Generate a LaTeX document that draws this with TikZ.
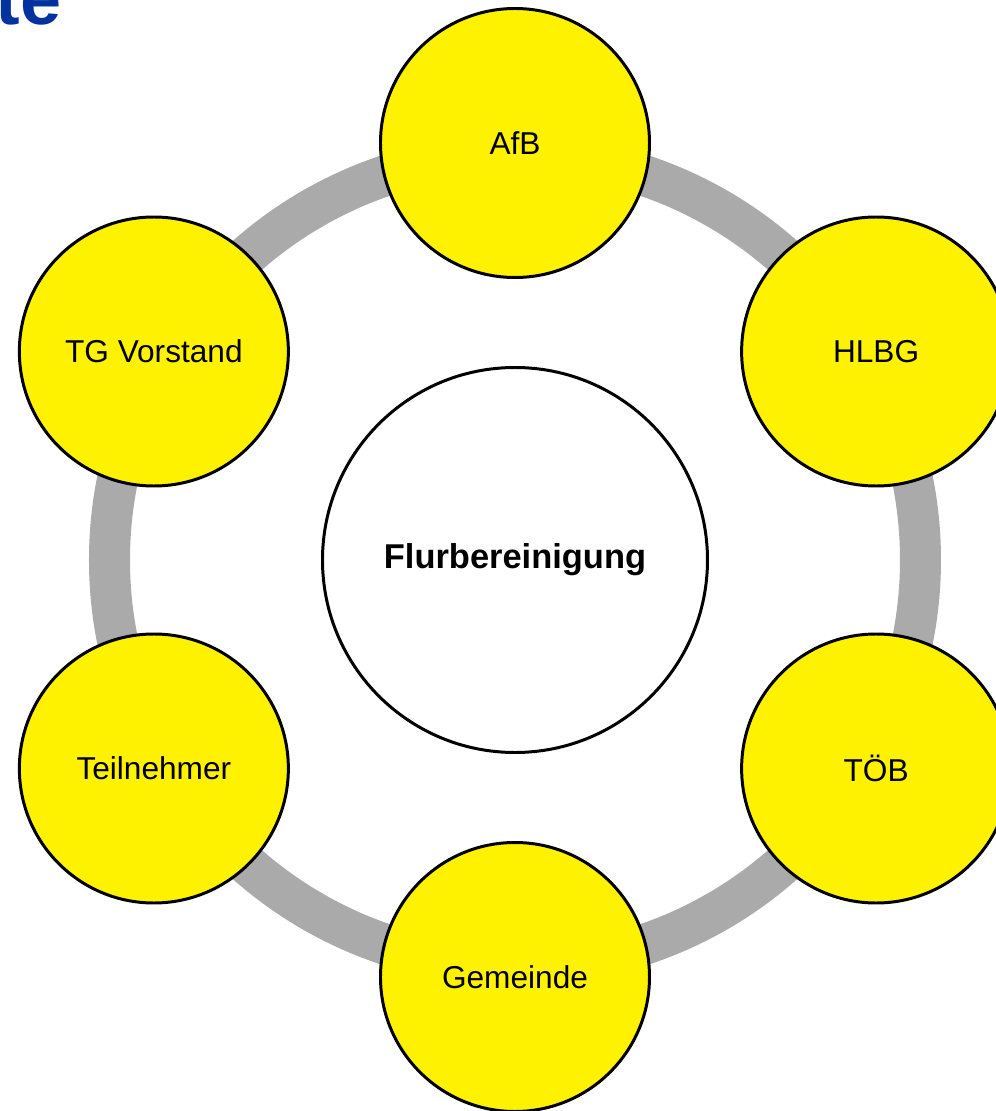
\documentclass[tikz,border=0pt]{standalone}
\usepackage{fontspec}
\setmainfont{Liberation Sans}
\usepackage{xcolor}
\usetikzlibrary{positioning}

\definecolor{ringgray}{RGB}{170,170,170}
\definecolor{titleblue}{RGB}{0,51,160}

\begin{document}
\begin{tikzpicture}[
    actor/.style={circle, draw=black, line width=0.85pt, fill=yellow,
        minimum size=2.69cm, inner sep=0pt, font=\fontsize{9}{11}\selectfont},
    core/.style={circle, draw=black, line width=0.85pt, fill=white,
        minimum size=3.85cm, inner sep=0pt, font=\fontsize{9.8}{12}\selectfont\bfseries}
  ]
    \useasboundingbox (-5.15,-5.51) rectangle (4.81,5.60);

    % title, cut off at the page edge
    \node[anchor=base east, inner sep=0pt, text=titleblue,
        font=\fontsize{21}{25}\selectfont\bfseries] (title) at (-4.53,5.35) {te};

    % grey ring behind the circles
    \draw[ringgray, line width=0.41cm] (0,0) circle (4.055);

    \node[core] (flur) at (0,0) {Flurbereinigung};

    \foreach \a/\n/\t in {90/afb/AfB, 30/hlbg/HLBG, -30/toeb/TÖB,
                          -90/gemeinde/Gemeinde, 210/teilnehmer/Teilnehmer,
                          150/tgv/TG Vorstand} {
        \node[actor] (\n) at (\a:4.17) {\t};
    }

\end{tikzpicture}
\end{document}
